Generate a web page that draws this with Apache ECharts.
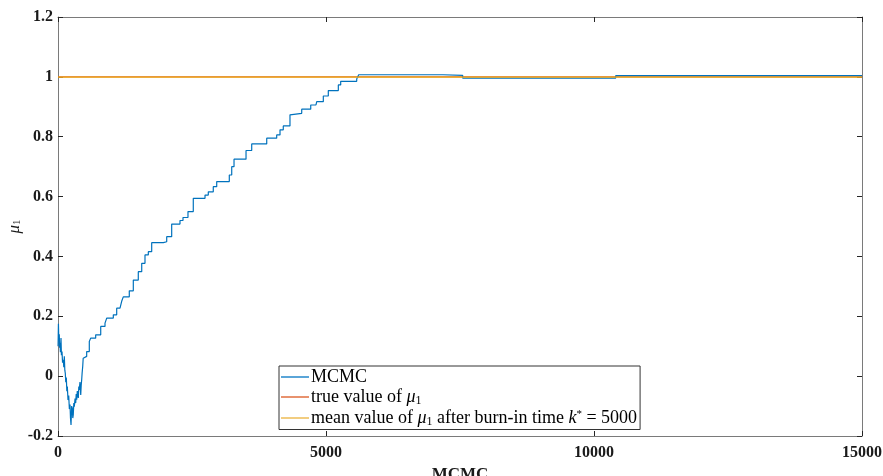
<!DOCTYPE html>
<html>
<head>
<meta charset="utf-8">
<script src="https://cdn.jsdelivr.net/npm/echarts@6/dist/echarts.min.js"></script>
<style>
    html, body { margin: 0; padding: 0; background: #fff; }
    #chart { width: 883px; height: 476px; }
</style>
</head>
<body>
<div id="chart"></div>
<script>
// MCMC trace of mu_1 (iteration, value)
const mcmcIter = [1, 8, 15, 24, 30, 37, 45, 56, 64, 75, 85, 99, 108, 118, 127, 136, 145, 155, 165, 174, 187, 200, 212, 224,
    233, 243, 255, 267, 276, 285, 295, 304, 318, 330, 340, 349, 360, 379, 388, 397, 410, 424, 433, 442, 450, 461, 470, 479,
    535, 584, 610, 703, 797, 877, 909, 1032, 1095, 1157, 1188, 1218, 1330, 1405, 1498, 1562, 1623, 1685, 1748, 1966, 2028,
    2121, 2276, 2332, 2425, 2524, 2743, 2804, 2897, 2961, 3196, 3241, 3284, 3508, 3614, 3894, 4080, 4142, 4203, 4328,
    4360, 4547, 4715, 4813, 4827, 4950, 5043, 5230, 5274, 5573, 5610, 7183, 7550, 10405, 15000]
const mcmcValue = [0.10, 0.175, 0.12, 0.14, 0.095, 0.11, 0.08, 0.127, 0.07, 0.082, 0.045, 0.055, 0.03, 0.066, 0.02, 0.010, -0.02, -0.005, -0.05, -0.035, -0.08, -0.065, -0.11, -0.095,
    -0.14, -0.163, -0.10, -0.107, -0.14, -0.129, -0.09, -0.102, -0.075, -0.09, -0.06, -0.079, -0.05, -0.073, -0.035, -0.046, -0.02, -0.063, -0.03, -0.012, 0.01, 0.032, 0.06, 0.066,
    0.082, 0.116, 0.127, 0.138, 0.166, 0.177, 0.194, 0.205, 0.227, 0.233, 0.25, 0.265, 0.285, 0.321, 0.349, 0.377, 0.405, 0.416, 0.446, 0.449, 0.466,
    0.508, 0.52, 0.53, 0.55, 0.594, 0.605, 0.616, 0.633, 0.65, 0.672, 0.70, 0.725, 0.754, 0.776, 0.795, 0.806, 0.823, 0.836, 0.873,
    0.878, 0.892, 0.906, 0.912, 0.917, 0.936, 0.954, 0.973, 0.985, 0.993, 1.007, 1.005, 0.996, 1.004, 1.004]
const trueValue = 1
const meanValue = 0.999
const xRange = [0, 15000]
const xStep = 5000
const yRange = [-0.2, 1.2]
const yStep = 0.2
const seriesNames = ['MCMC', 'true value of μ1', 'mean value of μ1 after burn-in time k* = 5000']

const chart = echarts.init(document.getElementById('chart'))

const tickFont = {
    fontFamily: 'Liberation Serif',
    fontWeight: 'bold',
    fontSize: 16,
    color: '#1a1a1a'
}
const axisLineColor = '#7a7a7a'

// 通用坐标轴样式(四边框, 刻度朝内)
function makeAxis(extra) {
    return Object.assign({
        type: 'value',
        axisLine: { show: true, onZero: false, lineStyle: { color: axisLineColor, width: 1 } },
        axisTick: { show: true, inside: true, length: 5, lineStyle: { color: '#262626' } },
        splitLine: { show: false }
    }, extra)
}

const legendRich = {
    t: { fontFamily: 'Liberation Serif', fontSize: 18, lineHeight: 18, color: '#000' },
    i: { fontFamily: 'Liberation Serif', fontStyle: 'italic', fontSize: 18, lineHeight: 18, color: '#000' },
    s: { fontFamily: 'Liberation Serif', fontSize: 12, color: '#000', verticalAlign: 'bottom', padding: [7, 0, 0, 0] },
    p: { fontFamily: 'Liberation Serif', fontSize: 11, color: '#000', verticalAlign: 'top', padding: [0, 0, 7, 0] }
}

const option = {
    animation: false,
    grid: { left: 58, right: 21, top: 17, bottom: 40, containLabel: false, outerBoundsMode: 'none' },
    legend: {
        orient: 'vertical',
        left: 279,
        top: 366,
        padding: [2, 3, 2, 2],
        itemGap: 2,
        itemWidth: 28,
        itemHeight: 2,
        borderColor: '#333',
        borderWidth: 1,
        borderRadius: 0,
        backgroundColor: '#fff',
        textStyle: { rich: legendRich, padding: [0, 0, 0, -3] },
        data: [
            { name: seriesNames[0], icon: 'rect', itemStyle: { color: '#5aa5d8' } },
            { name: seriesNames[1], icon: 'rect', itemStyle: { color: '#e8926e' } },
            { name: seriesNames[2], icon: 'rect', itemStyle: { color: '#f2cd80' } }
        ],
        formatter: function (name) {
            if (name === seriesNames[0]) return '{t|MCMC}'
            if (name === seriesNames[1]) return '{t|true value of }{i|μ}{s|1}'
            return '{t|mean value of }{i|μ}{s|1}{t| after burn-in time }{i|k}{p|*}{t| = 5000}'
        }
    },
    xAxis: [
        makeAxis({
            min: xRange[0], max: xRange[1], interval: xStep,
            name: 'MCMC',
            nameLocation: 'middle',
            nameGap: 23,
            nameTextStyle: { fontFamily: 'Liberation Serif', fontWeight: 'bold', fontSize: 17, color: '#1a1a1a' },
            axisLabel: Object.assign({ margin: 9, formatter: v => String(v) }, tickFont)
        }),
        makeAxis({
            position: 'top', min: xRange[0], max: xRange[1], interval: xStep,
            axisLabel: { show: false }
        })
    ],
    yAxis: [
        makeAxis({
            min: yRange[0], max: yRange[1], interval: yStep,
            name: '{i|μ}{s|1}',
            nameLocation: 'middle',
            nameRotate: 90,
            nameGap: 35,
            nameMoveOverlap: false,
            nameTextStyle: {
                rich: {
                    i: { fontFamily: 'Liberation Serif', fontStyle: 'italic', fontSize: 17, color: '#1a1a1a' },
                    s: { fontFamily: 'Liberation Serif', fontSize: 11, color: '#1a1a1a', verticalAlign: 'bottom', padding: [6, 0, 0, 0] }
                }
            },
            axisLabel: Object.assign({ margin: 5 }, tickFont)
        }),
        makeAxis({
            position: 'right', min: yRange[0], max: yRange[1], interval: yStep,
            axisLabel: { show: false }
        })
    ],
    series: [
        {
            name: seriesNames[0],
            type: 'line',
            step: 'end',
            showSymbol: false,
            data: mcmcIter.map((it, i) => [it, mcmcValue[i]]),
            lineStyle: { color: '#0072BD', width: 1.2 },
            itemStyle: { color: '#0072BD' },
            z: 3
        },
        {
            name: seriesNames[1],
            type: 'line',
            showSymbol: false,
            data: [[xRange[0], trueValue], [xRange[1], trueValue]],
            lineStyle: { color: '#D95319', width: 1.2 },
            itemStyle: { color: '#D95319' },
            z: 2
        },
        {
            name: seriesNames[2],
            type: 'line',
            showSymbol: false,
            data: [[xRange[0], meanValue], [xRange[1], meanValue]],
            lineStyle: { color: '#EDB120', width: 1.2 },
            itemStyle: { color: '#EDB120' },
            z: 4
        }
    ]
}

chart.setOption(option)
</script>
</body>
</html>
